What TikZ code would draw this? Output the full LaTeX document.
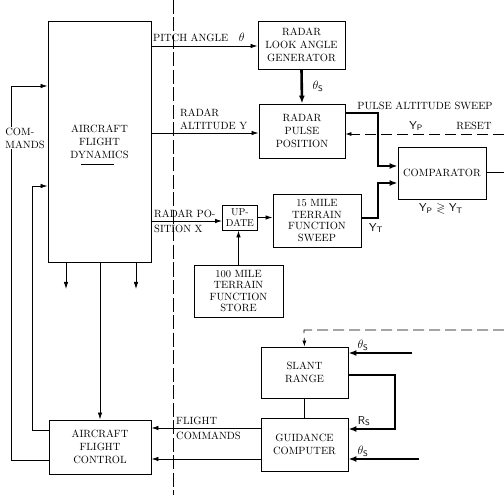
\documentclass[tikz,border=0pt]{standalone}
\usepackage{amssymb}
\usetikzlibrary{arrows.meta}
\begin{document}
\begin{tikzpicture}[x=1pt,y=-1pt,
  font=\fontsize{10.5}{13}\selectfont,
  blk/.style={draw,line width=0.9pt,inner sep=0pt,align=center,anchor=center},
  tight/.style={font=\fontsize{10.5}{11.6}\selectfont},
  arr/.style={line width=0.8pt,-{Latex[length=7pt,width=4.5pt]}},
  thk/.style={line width=2.6pt,-{Latex[length=8pt,width=6pt]}},
  dsh/.style={line width=0.8pt,dash pattern=on 11pt off 5pt},
  lbl/.style={inner sep=0pt,align=left},
  sym/.style={inner sep=0pt,font=\fontsize{11.5}{13}\selectfont\sffamily}
]
\useasboundingbox (0,0) rectangle (504,500);
% separator line
\draw[line width=0.8pt,dash pattern=on 14pt off 3.5pt] (173,0) -- (173,495);

% blocks
\node[blk,minimum width=103pt,minimum height=241pt] (AFD) at (99.5,141.5) {AIRCRAFT\\FLIGHT\\DYNAMICS};
\draw[line width=0.9pt] (81,164) -- (114,164);
\node[blk,minimum width=87pt,minimum height=48pt] (RLAG) at (301.5,45) {RADAR\\LOOK ANGLE\\GENERATOR};
\node[blk,minimum width=86pt,minimum height=54pt] (RPP) at (302,131) {RADAR\\PULSE\\POSITION};
\node[blk,minimum width=88pt,minimum height=52pt] (COMP) at (442,173) {COMPARATOR};
\node[blk,tight,minimum width=88pt,minimum height=53pt] (TFS) at (317,220.5) {15 MILE\\TERRAIN\\FUNCTION\\SWEEP};
\node[blk,minimum width=35pt,minimum height=25pt,font=\fontsize{10}{11.5}\selectfont] (UPD) at (240,217.5) {UP-\\DATE};
\node[blk,tight,minimum width=89pt,minimum height=52pt] (STORE) at (238.5,291) {100 MILE\\TERRAIN\\FUNCTION\\STORE};
\node[blk,minimum width=87pt,minimum height=51pt] (SR) at (304.5,372.5) {SLANT\\RANGE};
\node[blk,minimum width=87pt,minimum height=53pt] (GC) at (304.5,444.5) {GUIDANCE\\COMPUTER};
\node[blk,minimum width=102pt,minimum height=54pt] (AFC) at (100,447) {AIRCRAFT\\FLIGHT\\CONTROL};

% coordinates
\coordinate (pa) at (0,46);
\coordinate (ra) at (0,133);
\coordinate (rp) at (0,221);
\coordinate (p1) at (378,113);
\coordinate (p2) at (378,166);
\coordinate (t1) at (378,218);
\coordinate (t2) at (378,183);
\coordinate (rs) at (504,134);
\coordinate (co) at (504,172);
\coordinate (d1) at (504,330);
\coordinate (d2) at (304,330);
\coordinate (s1) at (412,353);
\coordinate (r1) at (395,375);
\coordinate (r2) at (395,429);
\coordinate (g1) at (419,459);
\coordinate (fc1) at (0,428);
\coordinate (fc2) at (0,459);
\coordinate (c1) at (11,460);
\coordinate (c2) at (11,86);
\coordinate (c3) at (32,430);
\coordinate (c4) at (32,186);
\coordinate (b1) at (66,289);
\coordinate (b2) at (136,289);

% connectors
\draw[arr] (AFD.east |- pa) -- (RLAG.west |- pa);
\draw[arr] (AFD.east |- ra) -- (RPP.west |- ra);
\draw[arr] (AFD.east |- rp) -- (UPD.west |- rp);
\draw[thk] (RLAG.south) -- (RPP.north);
\draw[thk] (RPP.east |- p1) -- (p1) -- (p2) -- (COMP.west |- p2);
\draw[thk] (TFS.east |- t1) -- (t1) -- (t2) -- (COMP.west |- t2);
\draw[dsh,-{Latex[length=6pt,width=4pt]}] (rs) -- (RPP.east |- rs);
\draw[line width=0.8pt] (COMP.east |- co) -- (co);
\draw[arr] (UPD.east) -- (TFS.west |- UPD.east);
\draw[arr] (STORE.north) -- (STORE.north |- UPD.south);
\draw[arr] (AFD.south -| b1) -- (b1);
\draw[arr] (AFD.south -| b2) -- (b2);
\draw[arr] (AFC.north |- AFD.south) -- (AFC.north);
\draw[arr] (AFC.west |- c1) -- (c1) -- (c2) -- (AFD.west |- c2);
\draw[arr] (AFC.west |- c3) -- (c3) -- (c4) -- (AFD.west |- c4);
\draw[dsh,-{Latex[length=6pt,width=4pt]}] (d1) -- (d2) -- (SR.north);
\draw[thk] (s1) -- (SR.east |- s1);
\draw[line width=0.8pt] (SR.south) -- (GC.north);
\draw[thk] (SR.east |- r1) -- (r1) -- (r2) -- (GC.east |- r2);
\draw[thk] (g1) -- (GC.east |- g1);
\draw[arr] (GC.west |- fc1) -- (AFC.east |- fc1);
\draw[arr] (GC.west |- fc2) -- (AFC.east |- fc2);

% labels
\node[lbl,anchor=west] (lpa) at (153,37) {PITCH ANGLE\quad\textsf{\fontsize{11.5}{13}\selectfont$\theta$}};
\node[lbl,anchor=west] (lra) at (180,119.5) {RADAR\\ALTITUDE Y};
\node[lbl,anchor=west] (lrp1) at (154,214) {RADAR PO-};
\node[lbl,anchor=west] (lrp2) at (154,229) {SITION X};
\node[lbl,anchor=west] (lfc1) at (176,421) {FLIGHT};
\node[lbl,anchor=west] (lfc2) at (176,436) {COMMANDS};
\node[lbl,fill=white,inner sep=1pt] (lcm) at (25,138) {COM-\\MANDS};
\node[sym] (lts) at (318,86) {$\theta_{\mathsf{S}}$};
\node[lbl] (lpas) at (425,106) {PULSE ALTITUDE SWEEP};
\node[sym] (lyp) at (416,126) {Y$_{\mathsf P}$};
\node[lbl] (lrs) at (474,126) {RESET};
\node[sym] (lcmp) at (441,209) {Y$_{\mathsf P}$ $\gtrless$ Y$_{\mathsf T}$};
\node[sym] (lyt) at (376,228) {Y$_{\mathsf T}$};
\node[sym] (lts2) at (363,345) {$\theta_{\mathsf{S}}$};
\node[sym] (lrs2) at (364,421) {R$_{\mathsf S}$};
\node[sym] (lts3) at (363,451) {$\theta_{\mathsf{S}}$};
\end{tikzpicture}
\end{document}
